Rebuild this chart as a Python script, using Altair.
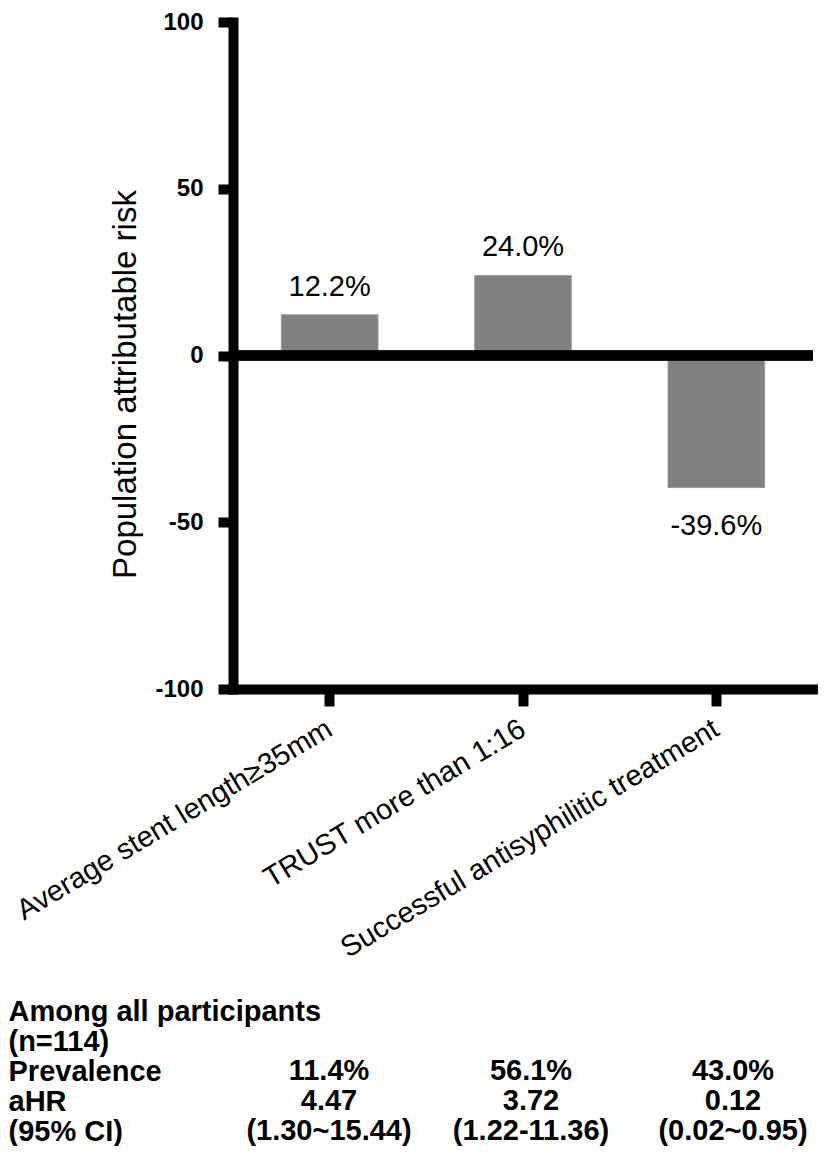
import altair as alt
import pandas as pd

# ---- data ----
categories = ["Average stent length≥35mm", "TRUST more than 1:16", "Successful antisyphilitic treatment"]
par_values = [12.2, 24.0, -39.6]
par_labels = ["12.2%", "24.0%", "-39.6%"]
y_ticks = [-100, -50, 0, 50, 100]

row_labels = ["Among all participants", "(n=114)", "Prevalence", "aHR", "(95% CI)"]
prevalence = ["11.4%", "56.1%", "43.0%"]
ahr = ["4.47", "3.72", "0.12"]
ci = ["(1.30~15.44)", "(1.22-11.36)", "(0.02~0.95)"]

FONT = "Liberation Sans, Arial, Helvetica, sans-serif"

bars_df = pd.DataFrame({"factor": categories, "par": par_values, "label": par_labels})

rows, cols, vals = [], [], []
for rname, series in [("Prevalence", prevalence), ("aHR", ahr), ("(95% CI)", ci)]:
    for c, v in zip(categories, series):
        rows.append(rname)
        cols.append(c)
        vals.append(v)
table_df = pd.DataFrame({"row": rows, "col": cols, "value": vals})

# ---- bar chart ----
x_enc = alt.X(
    "factor:N", sort=categories,
    scale=alt.Scale(paddingInner=0.5, paddingOuter=0.25),
    axis=alt.Axis(
        title=None, labelAngle=-31, labelAlign="right", labelBaseline="middle",
        labelFontSize=29, labelFont=FONT, labelColor="black", labelLimit=0,
        labelPadding=20, domainWidth=10, domainColor="black", domainCap="square",
        tickWidth=10, tickSize=17, tickColor="black", grid=False,
    ),
)
y_scale = alt.Scale(domain=[-100, 100], nice=False)
y_axis = alt.Axis(
    title="Population attributable risk", values=y_ticks,
    labelExpr="datum.value + ''",
    titleFontSize=33, titleFont=FONT, titleFontWeight="normal", titleColor="black",
    titleY=362, titlePadding=12,
    labelFontSize=24, labelFontWeight="bold", labelFont=FONT, labelColor="black",
    labelPadding=15, domainWidth=10, domainColor="black", domainCap="square",
    tickWidth=10, tickSize=15, tickColor="black", grid=False,
)

base = alt.Chart(bars_df)
bars = base.mark_bar(color="#808080", stroke="#9a9a9a", strokeWidth=1).encode(
    x=x_enc, y=alt.Y("par:Q", scale=y_scale, axis=y_axis)
)
zero = base.mark_rule(color="black", strokeWidth=10).encode(y=alt.datum(0))
lab_pos = base.transform_filter("datum.par >= 0").mark_text(
    fontSize=29, font=FONT, baseline="alphabetic", dy=-19, color="black"
).encode(x=alt.X("factor:N", sort=categories), y="par:Q", text="label:N")
lab_neg = base.transform_filter("datum.par < 0").mark_text(
    fontSize=29, font=FONT, baseline="alphabetic", dy=47, color="black"
).encode(x=alt.X("factor:N", sort=categories), y="par:Q", text="label:N")

top = alt.layer(bars, zero, lab_pos, lab_neg).properties(width=580, height=667)

# ---- table ----
table = alt.Chart(table_df).mark_text(
    fontSize=29, fontWeight="bold", font=FONT, baseline="middle", color="black"
).encode(
    x=alt.X("col:N", sort=categories,
            scale=alt.Scale(type="point", range=[96, 500], padding=0), axis=None),
    y=alt.Y(
        "row:N", sort=row_labels,
        scale=alt.Scale(domain=row_labels, paddingInner=0, paddingOuter=0),
        axis=alt.Axis(
            title=None, orient="left", labelAlign="left", labelPadding=225,
            ticks=False, tickSize=0, domain=False, labelFontSize=29,
            labelFontWeight="bold", labelFont=FONT, labelColor="black",
            labelLimit=0, labelBaseline="middle", grid=False,
        ),
    ),
    text="value:N",
).properties(width=580, height=150)

chart = (
    alt.vconcat(top, table, spacing=33)
    .resolve_scale(x="independent", y="independent")
    .properties(padding={"left": 0, "top": 2, "right": 0, "bottom": 0})
    .configure_view(stroke=None)
)

chart.save("out.html", embed_options={"renderer": "svg", "actions": False})
